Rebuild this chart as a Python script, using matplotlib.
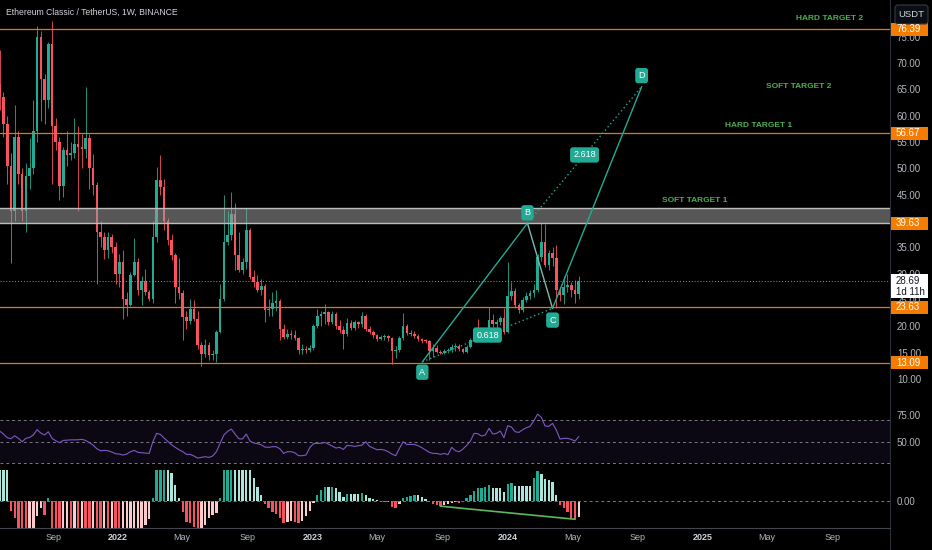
import matplotlib
matplotlib.use('Agg')
import matplotlib.pyplot as plt
import matplotlib.dates as mdates
import matplotlib.transforms as mtransforms
from matplotlib.lines import Line2D
from matplotlib.patches import Rectangle, FancyBboxPatch
import numpy as np
import pandas as pd

plt.rcParams['font.family'] = ['Liberation Sans', 'DejaVu Sans']

# ---- weekly ETC/USDT candles ----
first_week = '2021-05-24'
opens = [66.0, 63.5, 58.5, 50.5, 42.0, 56.0, 49.0, 42.0, 48.5, 50.0,
         57.0, 75.0, 67.0, 63.0, 73.6, 58.0, 55.0, 46.6, 53.5, 52.5,
         53.0, 54.7, 54.0, 53.6, 55.8, 50.0, 46.8, 38.0, 37.0, 34.5,
         37.0, 35.0, 30.0, 32.3, 25.2, 24.0, 29.8, 32.3, 27.0, 28.7,
         26.6, 25.2, 37.0, 47.8, 46.5, 40.0, 36.4, 33.5, 27.5, 26.3,
         21.8, 21.0, 23.4, 21.5, 16.5, 14.8, 16.4, 14.5, 14.8, 19.0,
         25.3, 36.0, 37.3, 41.4, 33.5, 30.7, 32.3, 38.3, 29.4, 28.5,
         27.0, 27.6, 23.1, 23.4, 24.4, 24.8, 19.6, 18.0, 18.6, 18.3,
         17.8, 15.5, 15.8, 15.5, 16.0, 20.1, 21.9, 22.4, 22.8, 20.8,
         22.3, 20.1, 19.3, 18.6, 20.7, 19.8, 20.8, 20.4, 22.0, 19.5,
         18.9, 18.3, 17.7, 18.0, 18.2, 17.9, 15.3, 15.5, 17.8, 20.0,
         18.8, 18.5, 18.2, 17.6, 17.3, 17.2, 15.4, 15.9, 15.2, 15.0,
         15.4, 15.6, 16.1, 16.3, 15.7, 15.2, 16.2, 17.4, 18.5, 18.4,
         18.0, 18.9, 21.3, 20.5, 20.8, 21.6, 19.0, 25.8, 26.8, 24.0,
         23.1, 25.1, 25.7, 26.3, 27.0, 33.2, 36.1, 31.7, 34.0, 33.0,
         26.9, 26.0, 27.4, 27.9, 27.0, 26.2]
highs = [72.5, 64.5, 60.0, 53.0, 62.0, 57.0, 50.0, 51.0, 55.8, 63.0,
         77.0, 76.0, 68.0, 74.0, 78.0, 59.5, 56.0, 54.0, 57.0, 55.0,
         59.5, 58.0, 56.5, 65.5, 56.5, 52.8, 47.5, 40.0, 38.0, 38.0,
         37.6, 36.0, 33.8, 34.5, 26.5, 30.3, 36.8, 33.0, 29.5, 31.0,
         27.0, 40.0, 50.3, 52.6, 48.0, 40.5, 37.5, 34.0, 33.0, 27.0,
         23.0, 25.3, 25.0, 23.0, 17.0, 17.7, 17.0, 15.5, 19.3, 28.0,
         45.0, 42.0, 45.6, 43.4, 38.0, 33.0, 42.4, 38.6, 30.7, 29.8,
         29.0, 28.0, 25.3, 26.6, 27.0, 25.2, 20.5, 19.6, 19.3, 19.3,
         18.0, 16.6, 16.3, 16.4, 20.5, 23.3, 23.0, 24.3, 23.0, 22.9,
         22.8, 21.2, 20.0, 21.6, 21.2, 21.2, 21.0, 22.7, 22.3, 20.0,
         19.4, 18.6, 18.4, 18.5, 18.4, 18.0, 16.3, 18.2, 22.6, 20.5,
         19.3, 19.2, 18.6, 17.9, 17.6, 17.4, 16.6, 16.4, 15.5, 15.8,
         16.0, 16.6, 16.9, 16.6, 16.0, 16.5, 17.8, 19.5, 21.5, 19.6,
         19.8, 23.7, 22.4, 21.5, 22.0, 23.5, 32.3, 28.5, 27.3, 24.5,
         25.6, 26.5, 27.0, 28.0, 33.8, 39.6, 39.4, 34.6, 35.0, 35.5,
         27.5, 29.6, 30.0, 28.4, 28.8, 29.5]
lows = [61.0, 56.0, 47.0, 32.0, 40.0, 47.0, 40.0, 38.0, 46.0, 49.0,
        55.0, 59.0, 58.5, 61.5, 47.0, 53.5, 44.0, 44.6, 50.5, 51.6,
        52.0, 42.0, 50.0, 52.0, 46.0, 45.0, 28.0, 35.0, 32.8, 33.0,
        34.0, 28.0, 27.5, 21.5, 22.0, 23.8, 29.5, 26.0, 24.0, 26.0,
        24.8, 24.5, 36.0, 45.0, 38.3, 35.5, 32.6, 24.5, 25.3, 17.5,
        19.5, 20.5, 21.0, 15.8, 12.5, 14.2, 13.7, 13.7, 13.3, 18.7,
        24.8, 35.5, 36.5, 30.7, 30.4, 30.0, 31.0, 29.0, 27.5, 26.6,
        26.0, 20.9, 22.0, 22.0, 23.0, 17.4, 17.6, 17.6, 17.7, 17.4,
        14.8, 14.8, 14.9, 15.2, 15.6, 19.8, 20.0, 20.5, 20.3, 20.4,
        19.6, 18.7, 15.8, 18.2, 19.3, 19.4, 19.8, 19.9, 19.2, 18.5,
        17.9, 17.2, 17.4, 17.5, 17.3, 12.8, 14.0, 15.2, 17.5, 18.3,
        18.1, 17.8, 17.3, 16.9, 16.8, 13.6, 14.2, 14.9, 14.7, 14.8,
        15.0, 15.2, 15.4, 15.3, 14.9, 14.9, 16.0, 17.2, 17.6, 17.6,
        17.7, 18.6, 19.9, 19.8, 20.2, 18.6, 18.8, 25.0, 23.5, 22.6,
        22.7, 24.6, 25.2, 25.6, 26.5, 32.5, 31.2, 30.8, 31.5, 23.5,
        24.8, 24.3, 26.6, 25.5, 24.4, 25.2]
closes = [63.5, 58.5, 50.5, 42.0, 56.0, 49.0, 42.0, 48.5, 50.0, 57.0,
          75.0, 67.0, 63.0, 73.6, 58.0, 55.0, 46.6, 53.5, 52.5, 53.0,
          54.7, 54.0, 53.6, 55.8, 50.0, 46.8, 38.0, 37.0, 34.5, 37.0,
          35.0, 30.0, 32.3, 25.2, 24.0, 29.8, 32.3, 27.0, 28.7, 26.6,
          25.2, 37.0, 47.8, 46.5, 40.0, 36.4, 33.5, 27.5, 26.3, 21.8,
          21.0, 23.4, 21.5, 16.5, 14.8, 16.4, 14.5, 14.8, 19.0, 25.3,
          36.0, 37.3, 41.4, 33.5, 30.7, 32.3, 38.3, 29.4, 28.5, 27.0,
          27.6, 23.1, 23.4, 24.4, 24.8, 19.6, 18.0, 18.6, 18.3, 17.8,
          15.5, 15.8, 15.5, 16.0, 20.1, 21.9, 22.4, 22.8, 20.8, 22.3,
          20.1, 19.3, 18.6, 20.7, 19.8, 20.8, 20.4, 22.0, 19.5, 18.9,
          18.3, 17.7, 18.0, 18.2, 17.9, 15.3, 15.5, 17.8, 20.0, 18.8,
          18.5, 18.2, 17.6, 17.3, 17.2, 15.4, 15.9, 15.2, 15.0, 15.4,
          15.6, 16.1, 16.3, 15.7, 15.2, 16.2, 17.4, 18.5, 18.4, 18.0,
          18.9, 21.3, 20.5, 20.8, 21.6, 19.0, 25.8, 26.8, 24.0, 23.1,
          25.1, 25.7, 26.3, 27.0, 33.2, 36.1, 31.7, 34.0, 33.0, 26.9,
          26.0, 27.4, 27.9, 27.0, 26.2, 28.69]

rsi = [59.8, 57.1, 53.7, 52.8, 55.5, 53.1, 50.0, 53.1, 54.0, 56.2,
       61.1, 58.0, 56.2, 59.2, 53.1, 50.9, 49.1, 51.2, 51.5, 51.7,
       51.8, 51.8, 52.2, 51.2, 49.1, 46.9, 43.5, 41.7, 42.0, 41.7,
       40.5, 38.9, 38.6, 37.7, 38.6, 40.8, 42.0, 40.2, 39.8, 39.5,
       39.2, 50.0, 57.7, 56.8, 53.4, 50.3, 47.2, 44.8, 42.6, 40.8,
       38.3, 38.3, 36.8, 34.9, 35.5, 36.2, 35.5, 36.8, 40.8, 48.5,
       56.2, 59.5, 61.7, 57.1, 52.8, 52.5, 57.1, 50.6, 48.8, 48.2,
       47.2, 45.1, 44.8, 45.4, 45.4, 43.5, 39.2, 40.8, 40.8, 39.8,
       37.1, 37.1, 37.7, 44.5, 48.2, 48.5, 48.5, 49.4, 47.8, 46.0,
       44.2, 44.8, 42.9, 46.6, 46.3, 45.7, 46.3, 46.9, 50.0, 45.7,
       44.2, 42.6, 42.9, 42.3, 40.8, 38.6, 37.1, 43.8, 50.0, 47.5,
       47.5, 47.5, 46.3, 44.5, 42.3, 40.2, 39.2, 39.2, 38.3, 39.2,
       38.0, 44.8, 41.7, 40.8, 43.2, 46.6, 50.6, 57.7, 57.4, 55.2,
       56.2, 62.3, 57.1, 57.7, 59.8, 53.7, 64.8, 63.5, 59.2, 58.6,
       61.1, 62.9, 64.2, 69.4, 75.5, 72.5, 64.5, 64.2, 66.9, 60.8,
       52.5, 53.1, 53.1, 52.2, 50.6, 54.6]

momentum = [40, 35, 32, -10, -17, -30, -34, -38, -33, -28,
            -15, -7, -14, 3, -40, -50, -55, -52, -50, -54,
            -51, -56, -53, -58, -60, -57, -62, -65, -60, -63,
            -58, -61, -64, -55, -48, -42, -38, -33, -29, -24,
            -18, 3, 40, 45, 48, 40, 28, 16, 3, -11,
            -21, -22, -26, -30, -29, -24, -17, -14, -12, 3,
            40, 45, 50, 45, 42, 39, 36, 33, 23, 14,
            6, -3, -7, -11, -13, -17, -22, -21, -20, -20.5,
            -21.5, -20, -15, -10, -2, 6, 11, 14, 13.8, 14.5,
            13, 9, 4, 7, 6.9, 6.8, 6.7, 8, 6, 3.5,
            1.8, 0.8, -0.5, -0.8, -0.6, -6, -7, -3, 3, 4.5,
            5, 6, 5.9, 4, 2, -1, -2.5, -3.5, -5, -4,
            -3, -2, -1, -2, -0.5, 3, 6, 10, 13, 13.5,
            14, 16, 13.5, 13.3, 12.7, 9, 17, 18, 15, 14.9,
            14.8, 14.7, 14.6, 23, 30, 27, 22, 21, 19, 6,
            -4, -7, -11, -17, -18, -16]

# horizontal levels and the grey supply zone
levels = [76.39, 56.67, 23.63, 13.09]
zone = [39.63, 42.5]
last_price = 28.69
countdown = '1d 11h'

# ABCD pattern
pattern_names = ['A', 'B', 'C', 'D']
pattern_dates = ['2023-07-25', '2024-02-07', '2024-03-25', '2024-09-08']
pattern_prices = [13.3, 39.6, 23.45, 65.5]
ratio_labels = ['0.618', '2.618']

# target notes
target_names = ['HARD TARGET 2', 'SOFT TARGET 2', 'HARD TARGET 1', 'SOFT TARGET 1']
target_dates = ['2025-08-27', '2025-06-30', '2025-04-16', '2024-12-17']
target_prices = [78.35, 65.45, 58.2, 44.0]

# divergence drawn on momentum (week numbers, 0-based)
div_weeks = [118, 154]

tick_dates = ['2021-09-01', '2022-01-01', '2022-05-01', '2022-09-01', '2023-01-01',
              '2023-05-01', '2023-09-01', '2024-01-01', '2024-05-01', '2024-09-01',
              '2025-01-01', '2025-05-01', '2025-09-01']
tick_labels = ['Sep', '2022', 'May', 'Sep', '2023', 'May', 'Sep', '2024', 'May',
               'Sep', '2025', 'May', 'Sep']
price_ticks = list(range(10, 80, 5))

TEAL = '#22ab94'
RED = '#f7525f'
ORANGE = '#f57c00'
GRID_TXT = '#b2b5be'

W, H = 932, 550
fig = plt.figure(figsize=(W / 100, H / 100), dpi=100, facecolor='black')


def pane(y0, y1):
    a = fig.add_axes([0, 1 - y1 / H, 890 / W, (y1 - y0) / H], facecolor='black')
    for s in a.spines.values():
        s.set_visible(False)
    a.set_xticks([])
    a.yaxis.tick_right()
    a.tick_params(axis='y', length=0, labelsize=7, labelcolor=GRID_TXT, pad=5)
    return a


ax = pane(0, 400)
ax_rsi = pane(400, 470)
ax_mom = pane(470, 528)

x_start = mdates.date2num(pd.Timestamp('2021-05-24 12:00'))
x_end = x_start + 890 / 0.5336
for a in (ax, ax_rsi, ax_mom):
    a.set_xlim(x_start, x_end)

dates = pd.date_range(first_week, periods=len(closes), freq='W-MON')
xd = mdates.date2num(dates)
o, h, l, c = (np.array(v) for v in (opens, highs, lows, closes))
cols = np.where(c >= o, TEAL, RED)

# ---- main pane ----
ax.set_ylim(6.05, 81.95)
ax.set_yticks(price_ticks)
ax.set_yticklabels([f'{t:.2f}' for t in price_ticks])

ax.vlines(xd, l, h, colors=cols, lw=0.6, zorder=2)
ax.bar(xd, np.maximum(np.abs(c - o), 0.15), bottom=np.minimum(o, c), width=4.9,
       color=cols, lw=0, zorder=3)

ax.axhspan(zone[0], zone[1], fc='#a0a0a0', alpha=0.55, lw=0, zorder=4)
for z in zone:
    ax.axhline(z, color='#bdbdbd', lw=1.0, zorder=4)
for lv in levels:
    ax.axhline(lv, color='#e0761f', lw=0.9, zorder=4)
ax.axhline(last_price, color='#9598a1', lw=0.7, ls=(0, (1, 2)), zorder=4)

ax.text(0.007, 0.97, 'Ethereum Classic / TetherUS, 1W, BINANCE', transform=ax.transAxes,
        ha='left', va='center', fontsize=6.2, color='#d1d4dc')

# ABCD pattern
px = mdates.date2num(pd.to_datetime(pattern_dates))
pp = np.array(pattern_prices)
ax.plot(px[:2], pp[:2], color=TEAL, lw=1.0, zorder=6)
ax.plot(px[1:3], pp[1:3], color='#7fb8ae', lw=1.0, zorder=6)
ax.plot(px[2:], pp[2:], color=TEAL, lw=1.0, zorder=6)
ax.plot(px[[0, 2]], pp[[0, 2]], color=TEAL, lw=1.0, ls=(0, (1, 2)), zorder=6)
ax.plot(px[[1, 3]], pp[[1, 3]], color=TEAL, lw=1.0, ls=(0, (1, 2)), zorder=6)
offsets = [-7.5, 7.5, -8.5, 8]
for name, xx, yy, off in zip(pattern_names, px, pp, offsets):
    ax.annotate(name, xy=(xx, yy), xytext=(0, off), textcoords='offset points',
                ha='center', va='center', fontsize=6.5, color='white', zorder=8,
                bbox=dict(boxstyle='round,pad=0.35,rounding_size=0.3', fc=TEAL, ec='none'))
for lab, (i, j) in zip(ratio_labels, [(0, 2), (1, 3)]):
    ax.text((px[i] + px[j]) / 2, (pp[i] + pp[j]) / 2, lab, ha='center', va='center',
            fontsize=6.5, color='white', zorder=8,
            bbox=dict(boxstyle='round,pad=0.35,rounding_size=0.3', fc=TEAL, ec='none'))

for name, d, p in zip(target_names, target_dates, target_prices):
    ax.text(mdates.date2num(pd.Timestamp(d)), p, name, ha='center', va='center',
            fontsize=6, fontweight='bold', color='#4caf50', zorder=8)

# ---- RSI pane ----
ax_rsi.set_ylim(23.9, 88.5)
ax_rsi.set_yticks([50, 75])
ax_rsi.set_yticklabels(['50.00', '75.00'])
ax_rsi.axhspan(30, 70, fc='#7e57c2', alpha=0.1, lw=0)
for lv in (70, 50, 30):
    ax_rsi.axhline(lv, color='#787b86', lw=0.7, ls=(0, (3, 3)))
ax_rsi.plot(xd, rsi, color='#7e57c2', lw=0.8)

# ---- momentum pane ----
m = np.array(momentum, dtype=float)
prev = np.r_[m[0], m[:-1]]
mcols = np.where(m >= 0, np.where(m > prev, TEAL, '#ace5dc'),
                 np.where(m < prev, RED, '#fccbcd'))
ax_mom.set_ylim(-26.7, 31)
ax_mom.set_yticks([0])
ax_mom.set_yticklabels(['0.00'])
ax_mom.bar(xd, m, width=4.4, color=mcols, lw=0)
ax_mom.axhline(0, color='#787b86', lw=0.7, ls=(0, (3, 3)))
ax_mom.plot(xd[div_weeks], m[div_weeks], color='#5cb85c', lw=1.2)

# time axis
xtr = mtransforms.blended_transform_factory(ax_mom.transData, ax_mom.transAxes)
for d, lab in zip(tick_dates, tick_labels):
    year = lab.isdigit()
    ax_mom.text(mdates.date2num(pd.Timestamp(d)), -0.16, lab, transform=xtr,
                ha='center', va='center', fontsize=6.5, clip_on=False,
                fontweight='bold' if year else 'normal',
                color='#d1d4dc' if year else GRID_TXT)

# ---- price scale badges (pixel boxes on the right scale) ----
ident = mtransforms.IdentityTransform()


def price_px(price):
    return ax.transData.transform((x_start, price))[1]


for lv in sorted(levels + [zone[0]], reverse=True):
    yp = price_px(lv)
    fig.add_artist(Rectangle((891, yp - 6.5), 37, 13, transform=ident,
                             fc=ORANGE, ec='none', zorder=20))
    fig.text(896, yp, f'{lv:.2f}', transform=ident, ha='left', va='center',
             fontsize=7, color='white', zorder=21)

yp = price_px(last_price)
fig.add_artist(Rectangle((891, yp - 17.5), 37, 24.5, transform=ident,
                         fc='white', ec='none', zorder=20))
fig.text(896, yp, f'{last_price:.2f}', transform=ident, ha='left', va='center',
         fontsize=7, color='#131722', zorder=21)
fig.text(896, yp - 11, countdown, transform=ident, ha='left', va='center',
         fontsize=7, color='#131722', zorder=21)

# separators and the currency button
fig.add_artist(Line2D([890 / W, 890 / W], [0, 1], color='#2a2e39', lw=0.8))
fig.add_artist(Line2D([0, 890 / W], [1 - 528 / H] * 2, color='#434651', lw=0.8))
fig.add_artist(FancyBboxPatch((895, H - 24), 33, 19, transform=ident,
                              boxstyle='round,pad=0,rounding_size=3',
                              fc='#0c0e15', ec='#363a45', lw=0.8, zorder=20))
fig.text(911.5, H - 14.5, 'USDT', transform=ident, ha='center', va='center',
         fontsize=6.8, color='#d1d4dc', zorder=21)

fig.savefig('out.png', dpi=100, facecolor='black')
